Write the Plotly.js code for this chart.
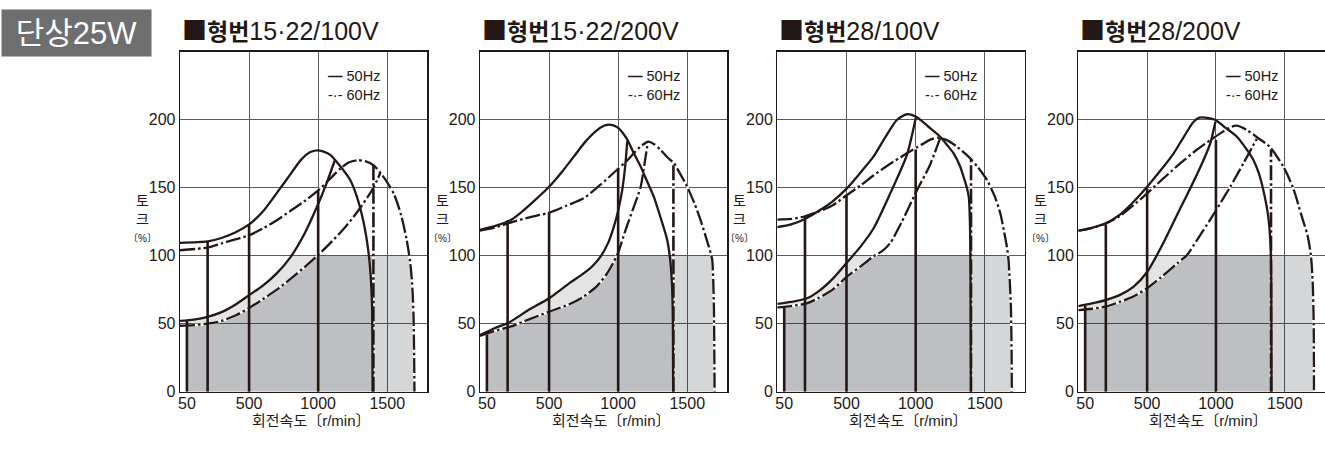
<!DOCTYPE html>
<html><head><meta charset="utf-8">
<script src="https://cdn.plot.ly/plotly-3.0.1.min.js"></script>
<style>html,body{margin:0;padding:0;background:#fff;}#chart{width:1325px;height:449px;}</style>
</head><body><div id="chart"></div>
<script>
// ---------------- data ----------------
const badgeText = '단상25W';
const panelTitles = ['■형번15·22/100V', '■형번15·22/200V', '■형번28/100V', '■형번28/200V'];
const xTickVals = [50, 500, 1000, 1500];
const xGridVals = [500, 1000, 1500];
const yTickVals = [0, 50, 100, 150, 200];
const legendLabels = ['50Hz', '60Hz'];
const xTitle = '회전속도〔r/min〕';
const yTitleLines = ['토', '크', '〔%〕'];
const ratedTorque = 100;

// Panel 1  (15·22 / 100V)
const p1_hi50_x = [0,200,300,400,500,600,700,800,880,940,990,1040,1090,1150,1230,1280,1330,1365,1382,1390,1394];
const p1_hi50_y = [109.5,110.5,113,117,123,132.5,146,160,171,176,177.5,176.5,174,167,156,143.5,124,102,82,62,0];
const p1_lo50_x = [0,100,200,300,400,500,600,700,800,900,1000,1060,1120];
const p1_lo50_y = [52,53,55,58.5,64,71,78,87,99,116,138,153,170];
const p1_hi60_x = [0,200,300,400,500,600,700,800,900,1000,1100,1160,1220,1280,1340,1400,1450,1500,1550,1600,1640,1665,1680,1690,1695,1697];
const p1_hi60_y = [104,106,109,112,115,120,126,133,140,148,158,164,168.5,170.2,169.5,166.5,161,154,145,130,112,96,80,57,25,0];
const p1_lo60_x = [0,100,200,300,400,500,600,700,800,900,1000,1100,1200,1300,1400,1450];
const p1_lo60_y = [48.5,49,50,52,56,61.5,68,75,83,91.5,100.5,110.5,121.5,134.5,150,161];
const p1_v50_x = [50,200,500,1000];
const p1_v50_top = [52,110.5,123,148];
const p1_v60_x = [1400];
const p1_v60_top = [166.5];

// Panel 2  (15·22 / 200V)
const p2_hi50_x = [0,100,220,300,400,500,600,680,760,850,910,960,1000,1065,1110,1163,1210,1258,1310,1355,1379,1391,1396,1398];
const p2_hi50_y = [119,121.5,126,132,141,150.7,162.5,173,183.5,192.5,196,196,194,185.5,176,165.5,154.5,143.4,127,111.5,94.5,75,50,0];
const p2_lo50_x = [0,100,220,350,500,650,750,820,880,930,968,1000,1029,1050,1066];
const p2_lo50_y = [41.7,46.5,51.5,60,68.7,80,87,93,100.5,110,121,133,148,165,184];
const p2_hi60_x = [0,100,220,350,500,620,750,870,990,1060,1113,1170,1218,1260,1307,1360,1404,1450,1500,1550,1597,1640,1670,1681,1693,1696,1698];
const p2_hi60_y = [118.5,120.5,124.3,128,131.6,136.5,142.2,152,163,169.5,175.3,181,183.8,182,177.8,172,168,160,150.7,139,126,112,101.8,96.8,62.5,30,0];
const p2_lo60_x = [0,100,220,350,500,650,750,850,920,993,1054,1110,1163,1190,1215];
const p2_lo60_y = [41,44.5,47.8,53,58.8,64.5,69.9,78,87,100.5,119,135,150.7,167,183.5];
const p2_v50_x = [50,200,500,1000];
const p2_v50_top = [42,126,132,164];
const p2_v60_x = [1400];
const p2_v60_top = [168];

// Panel 3  (28 / 100V)
const p3_hi50_x = [0,100,200,300,400,503,600,695,780,864,936,1009,1090,1177,1230,1274,1320,1346,1370,1384,1392,1396,1399];
const p3_hi50_y = [121,123,127,133,140,149.5,161,172.8,187,199.8,204,201.8,195,187.5,181,175.3,166,158,150,143,125,90,0];
const p3_lo50_x = [0,100,214,300,400,503,600,695,817,936,1001];
const p3_lo50_y = [64.5,66,68.7,74,83,95,106.5,120,146,174,201.5];
const p3_hi60_x = [0,100,200,300,400,503,600,695,800,936,1040,1110,1160,1225,1300,1394,1450,1515,1570,1612,1640,1659,1671,1688,1693,1695];
const p3_hi60_y = [126.5,127,129,132.5,137,144.6,151.5,159,166.5,175.3,181.5,185.5,186.8,185,180,171.6,165,155.7,144,131,117,106.6,96.8,62.5,30,0];
const p3_lo60_x = [0,100,214,300,400,503,600,695,760,817,900,1009,1100,1177];
const p3_lo60_y = [62,63,65,69,75,84.6,92,99.5,103.5,109.5,125,148,166,186.5];
const p3_v50_x = [50,200,500,1000];
const p3_v50_top = [63,129,144,178];
const p3_v60_x = [1400];
const p3_v60_top = [171];

// Panel 4  (28 / 200V)
const p4_hi50_x = [0,100,198,300,400,500,600,693,770,838,880,923,996,1070,1152,1210,1272,1310,1344,1380,1397,1402,1404];
const p4_hi50_y = [118.4,120.5,123.8,130,139.5,150.7,163,175.3,188,198.5,201.5,201.5,199.8,194,187.5,180,170.4,161,148.3,128.7,106.6,80,0];
const p4_lo50_x = [0,100,198,300,400,500,621,742,830,910,960,996];
const p4_lo50_y = [63,65,67.4,71,77,88,110,135,153,170.4,183,198.5];
const p4_hi60_x = [0,100,198,300,400,500,620,742,850,959,1040,1116,1160,1225,1300,1391,1490,1560,1620,1665,1690,1703,1710,1712];
const p4_hi60_y = [118.4,120.5,123.5,129,137,145.9,157,168,177,185,190.5,194.9,195.5,192.4,187,180,165.4,150,130,115,100,80,50,0];
const p4_lo60_x = [0,100,198,300,400,500,600,718,790,862,980,1104,1200,1297];
const p4_lo60_y = [60,61,62.5,66,70,76,84,94.4,100.5,111.5,130,150.7,168,186];
const p4_v50_x = [50,200,500,1000];
const p4_v50_top = [63,123,149.5,185];
const p4_v60_x = [1400];
const p4_v60_top = [178];

// ---------------- assembly ----------------
const panels = [
  {hi50:[p1_hi50_x,p1_hi50_y], lo50:[p1_lo50_x,p1_lo50_y], hi60:[p1_hi60_x,p1_hi60_y], lo60:[p1_lo60_x,p1_lo60_y], v50:[p1_v50_x,p1_v50_top], v60:[p1_v60_x,p1_v60_top]},
  {hi50:[p2_hi50_x,p2_hi50_y], lo50:[p2_lo50_x,p2_lo50_y], hi60:[p2_hi60_x,p2_hi60_y], lo60:[p2_lo60_x,p2_lo60_y], v50:[p2_v50_x,p2_v50_top], v60:[p2_v60_x,p2_v60_top]},
  {hi50:[p3_hi50_x,p3_hi50_y], lo50:[p3_lo50_x,p3_lo50_y], hi60:[p3_hi60_x,p3_hi60_y], lo60:[p3_lo60_x,p3_lo60_y], v50:[p3_v50_x,p3_v50_top], v60:[p3_v60_x,p3_v60_top]},
  {hi50:[p4_hi50_x,p4_hi50_y], lo50:[p4_lo50_x,p4_lo50_y], hi60:[p4_hi60_x,p4_hi60_y], lo60:[p4_lo60_x,p4_lo60_y], v50:[p4_v50_x,p4_v50_top], v60:[p4_v60_x,p4_v60_top]}
];

const INK = '#231815';
const FONT = 'Liberation Sans, Noto Sans CJK KR, sans-serif';
const DASHDOT = '15px,3px,2.5px,3px';
const xDomains = [[0.13585,0.32249],[0.36226,0.54891],[0.58664,0.77358],[0.81381,0.99977]];
const yDomain = [0.12762,0.88486];
const xRange = [0,1790], yRange = [0,250];

function interpAt(xs, ys, x){
  if (x <= xs[0]) return ys[0];
  for (let i=1;i<xs.length;i++){
    if (x <= xs[i]) { const t=(x-xs[i-1])/(xs[i]-xs[i-1]); return ys[i-1]+t*(ys[i]-ys[i-1]); }
  }
  return ys[ys.length-1];
}
function crossings(xs, ys, level){
  const out=[];
  for (let i=1;i<xs.length;i++){
    const a=ys[i-1]-level, b=ys[i]-level;
    if (a*b<0) out.push(xs[i-1]+(xs[i]-xs[i-1])*a/(a-b));
  }
  return out;
}
function cappedProfile(xs, ys, x0, x1, cap){
  let pts=[x0,x1].concat(xs.filter(v=>v>x0&&v<x1), crossings(xs,ys,cap).filter(v=>v>x0&&v<x1));
  pts=[...new Set(pts)].sort((a,b)=>a-b);
  return pts.map(x=>[x, Math.min(interpAt(xs,ys,x), cap)]);
}
function verticals(xs, tops){
  const X=[],Y=[];
  xs.forEach((x,i)=>{X.push(x,x,null);Y.push(0,tops[i],null);});
  return [X,Y];
}
function titleMarkup(t){
  const m = t.match(/^(■)(\D*)(.*)$/);
  if (!m) return t;
  return '<span style="font-family:Noto Sans CJK KR;font-size:25px">'+m[1]+'</span>'+
         '<b><span style="font-family:Noto Sans CJK KR;font-size:23px">'+m[2]+'</span></b>'+m[3];
}

const traces = [];
const layout = {
  width:1325, height:449, margin:{l:0,r:0,t:0,b:0},
  paper_bgcolor:'#ffffff', plot_bgcolor:'#ffffff',
  showlegend:false, hovermode:false,
  font:{family:FONT, color:INK, size:15},
  annotations:[]
};

layout.annotations.push({
  text:badgeText, xref:'paper', yref:'paper', x:76.5/1325, y:1-33/449,
  xanchor:'center', yanchor:'middle', showarrow:false,
  bgcolor:'#6e6e6e', width:147, height:44, borderpad:1,
  font:{family:FONT, size:31, color:'#ffffff'}
});

panels.forEach((p, i) => {
  const n = i+1;
  const xa = n===1 ? 'x' : 'x'+n, ya = n===1 ? 'y' : 'y'+n;
  const xo = 'x'+(n+4);
  const common = {xaxis:xa, yaxis:ya, hoverinfo:'skip', showlegend:false};
  const x0 = p.v50[0][0];           // lowest set speed
  const xSplit = p.v60[0][0];       // highest set speed

  // dark area: under the lower 60Hz curve, capped at rated torque
  const dark = cappedProfile(p.lo60[0], p.lo60[1], x0, xSplit, ratedTorque);
  traces.push(Object.assign({type:'scatter', mode:'lines', fill:'toself', fillcolor:'rgba(30,35,45,0.29)', line:{width:0},
    x:[x0].concat(dark.map(d=>d[0]), [xSplit]), y:[0].concat(dark.map(d=>d[1]), [0])}, common));

  // light band between lower 50Hz and lower 60Hz curves
  const xEnd = crossings(p.lo60[0], p.lo60[1], ratedTorque)[0];
  const top = cappedProfile(p.lo50[0], p.lo50[1], x0, xEnd, ratedTorque);
  const bot = cappedProfile(p.lo60[0], p.lo60[1], x0, xEnd, ratedTorque).reverse();
  const band = top.concat(bot);
  traces.push(Object.assign({type:'scatter', mode:'lines', fill:'toself', fillcolor:'rgba(0,0,0,0.105)', line:{width:0},
    x:band.map(d=>d[0]), y:band.map(d=>d[1])}, common));

  // right light area under upper 60Hz curve
  const xLast = p.hi60[0][p.hi60[0].length-1];
  const right = cappedProfile(p.hi60[0], p.hi60[1], xSplit, xLast, ratedTorque);
  traces.push(Object.assign({type:'scatter', mode:'lines', fill:'toself', fillcolor:'rgba(30,35,45,0.19)', line:{width:0},
    x:[xSplit].concat(right.map(d=>d[0]), [xLast]), y:[0].concat(right.map(d=>d[1]), [0])}, common));

  const v50 = verticals(p.v50[0], p.v50[1]);
  const v60 = verticals(p.v60[0], p.v60[1]);
  const spl = {shape:'spline', smoothing:0.7};

  // white underlay so dash-dot gaps show white
  [[p.hi60[0],p.hi60[1],true],[p.lo60[0],p.lo60[1],true],[v60[0],v60[1],false]].forEach(c=>{
    traces.push(Object.assign({type:'scatter', mode:'lines', x:c[0], y:c[1], connectgaps:false,
      line:Object.assign({color:'#ffffff', width:2.4}, c[2]?spl:{})}, common));
  });
  // solid 50Hz
  traces.push(Object.assign({type:'scatter', mode:'lines', x:v50[0], y:v50[1], connectgaps:false, line:{color:INK, width:2.6}}, common));
  traces.push(Object.assign({type:'scatter', mode:'lines', x:p.hi50[0], y:p.hi50[1], line:Object.assign({color:INK, width:2.3}, spl)}, common));
  traces.push(Object.assign({type:'scatter', mode:'lines', x:p.lo50[0], y:p.lo50[1], line:Object.assign({color:INK, width:2.3}, spl)}, common));
  // dash-dot 60Hz
  traces.push(Object.assign({type:'scatter', mode:'lines', x:v60[0], y:v60[1], connectgaps:false, line:{color:INK, width:2.6, dash:DASHDOT}}, common));
  traces.push(Object.assign({type:'scatter', mode:'lines', x:p.hi60[0], y:p.hi60[1], line:Object.assign({color:INK, width:2.3, dash:DASHDOT}, spl)}, common));
  traces.push(Object.assign({type:'scatter', mode:'lines', x:p.lo60[0], y:p.lo60[1], line:Object.assign({color:INK, width:2.3, dash:DASHDOT}, spl)}, common));
  // dummy trace for the grid overlay axis
  traces.push({type:'scatter', mode:'lines', x:[null], y:[null], xaxis:xo, yaxis:ya, hoverinfo:'skip', showlegend:false});

  layout['xaxis'+(n===1?'':n)] = {
    domain:xDomains[i], range:xRange, anchor:ya, fixedrange:true,
    tickmode:'array', tickvals:xTickVals, ticktext:xTickVals.map(String), ticks:'',
    showgrid:false, zeroline:false, showline:true, mirror:true, linecolor:INK, linewidth:1.3,
    tickfont:{family:FONT, size:16, color:INK}, ticklabelstandoff:-3
  };
  layout['xaxis'+(n+4)] = {
    overlaying:xa, range:xRange, anchor:ya, fixedrange:true,
    tickmode:'array', tickvals:xGridVals, showticklabels:false, ticks:'',
    showgrid:true, gridcolor:'#5a5a5a', gridwidth:1, zeroline:false, showline:false
  };
  layout['yaxis'+(n===1?'':n)] = {
    domain:yDomain, range:yRange, anchor:xa, fixedrange:true,
    tickmode:'array', tickvals:yTickVals, ticktext:yTickVals.map(String), ticks:'',
    showgrid:true, gridcolor:'#5a5a5a', gridwidth:1, zeroline:false,
    showline:true, mirror:true, linecolor:INK, linewidth:1.3,
    tickfont:{family:FONT, size:16, color:INK}, ticklabelstandoff:0
  };

  const xd = xa+' domain';
  // panel title
  layout.annotations.push({text:titleMarkup(panelTitles[i]), xref:xd, yref:'paper', x:0.0, y:1-29/449,
    xanchor:'left', yanchor:'middle', showarrow:false, font:{family:FONT, size:25, color:INK}});
  // legend (one text block, two rows)
  layout.annotations.push({text:'<b>—</b> '+legendLabels[0]+'<br>-·- '+legendLabels[1], xref:xd, yref:'paper', x:0.59, y:1-85.5/449,
    xanchor:'left', yanchor:'middle', align:'left', showarrow:false, font:{family:FONT, size:14.5, color:INK}});
  // y title (stacked)
  layout.annotations.push({text:yTitleLines[0]+'<br>'+yTitleLines[1]+'<br><span style="font-size:10px">'+yTitleLines[2]+'</span>',
    xref:xd, yref:'paper', x:-0.152, y:1-218/449, xanchor:'center', yanchor:'middle', align:'center', showarrow:false,
    font:{family:FONT, size:14, color:INK}});
  // x title
  layout.annotations.push({text:xTitle, xref:xd, yref:'paper', x:0.53, y:1-420.7/449, xanchor:'center', yanchor:'middle', showarrow:false, font:{family:FONT, size:15, color:INK}});
});

Plotly.newPlot('chart', traces, layout, {staticPlot:true, displayModeBar:false});
</script>
</body></html>
